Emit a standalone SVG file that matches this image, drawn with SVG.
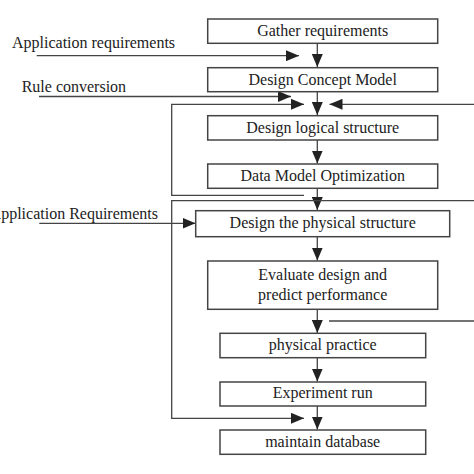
<svg xmlns="http://www.w3.org/2000/svg" width="474" height="474" viewBox="0 0 474 474">
<defs>
<marker id="ah" viewBox="0 0 13 11" refX="13" refY="5.5" markerWidth="13" markerHeight="11" markerUnits="userSpaceOnUse" orient="auto">
<path d="M0,0 L13,5.5 L0,11 Z" fill="#222"/>
</marker>
<style>
.box{fill:#fff;stroke:#444;stroke-width:1.5}
.t{font-family:"Liberation Serif","Times New Roman",serif;font-size:16px;fill:#222;text-anchor:middle}
.l{font-family:"Liberation Serif","Times New Roman",serif;font-size:16px;fill:#222}
.c{fill:none;stroke:#444;stroke-width:1.3}
.a{fill:none;stroke:#444;stroke-width:1.3;marker-end:url(#ah)}
</style>
</defs>
<rect width="474" height="474" fill="#fff"/>
<g id="connectors">
<line class="a" x1="317.3" y1="43.3" x2="317.3" y2="67"/>
<line class="a" x1="317.3" y1="91.7" x2="317.3" y2="115"/>
<line class="a" x1="317.3" y1="140" x2="317.3" y2="163.5"/>
<line class="a" x1="317.3" y1="188.3" x2="317.3" y2="210"/>
<line class="a" x1="317.3" y1="236.7" x2="317.3" y2="260.5"/>
<line class="a" x1="317.3" y1="309.3" x2="317.3" y2="333"/>
<line class="a" x1="317.3" y1="357.7" x2="317.3" y2="381.5"/>
<line class="a" x1="317.3" y1="406" x2="317.3" y2="429.5"/>
<line class="a" x1="36.7" y1="55.7" x2="299" y2="55.7"/>
<line class="a" x1="39" y1="96.5" x2="291" y2="96.5"/>
<path class="a" d="M304,195.3 H171.7 V104.3 H304"/>
<line class="a" x1="474" y1="104.3" x2="329.5" y2="104.3"/>
<path class="a" d="M474,200.7 H171.7 V418.3 H304"/>
<line class="a" x1="39.3" y1="223.3" x2="195.5" y2="223.3"/>
<line class="c" x1="329" y1="321" x2="474" y2="321"/>
</g>
<g id="n1"><rect class="box" x="207.7" y="19" width="230" height="24.3"/><text class="t" x="322.7" y="36">Gather requirements</text></g>
<g id="n2"><rect class="box" x="207.7" y="67.7" width="230" height="24"/><text class="t" x="322.7" y="85">Design Concept Model</text></g>
<g id="n3"><rect class="box" x="207.7" y="115.7" width="230" height="24.3"/><text class="t" x="322.7" y="132.5">Design logical structure</text></g>
<g id="n4"><rect class="box" x="207.7" y="164" width="230" height="24.3"/><text class="t" x="322.7" y="181">Data Model Optimization</text></g>
<g id="n5"><rect class="box" x="195.7" y="210.7" width="254" height="26"/><text class="t" x="322.7" y="228">Design the physical structure</text></g>
<g id="n6"><rect class="box" x="207.7" y="261" width="230" height="48.3"/><text class="t" x="322.7" y="280">Evaluate design and</text><text class="t" x="322.7" y="299.5">predict performance</text></g>
<g id="n7"><rect class="box" x="220" y="333.3" width="205.7" height="24.4"/><text class="t" x="322.7" y="350">physical practice</text></g>
<g id="n8"><rect class="box" x="220" y="382" width="205.7" height="24"/><text class="t" x="322.7" y="398">Experiment run</text></g>
<g id="n9"><rect class="box" x="220" y="430" width="205.7" height="24.3"/><text class="t" x="322.7" y="446.5">maintain database</text></g>
<g id="labels">
<text class="l" x="12" y="48.3">Application requirements</text>
<text class="l" x="21.7" y="92">Rule conversion</text>
<text class="l" x="158" y="219.3" text-anchor="end">Application Requirements</text>
</g>
</svg>
